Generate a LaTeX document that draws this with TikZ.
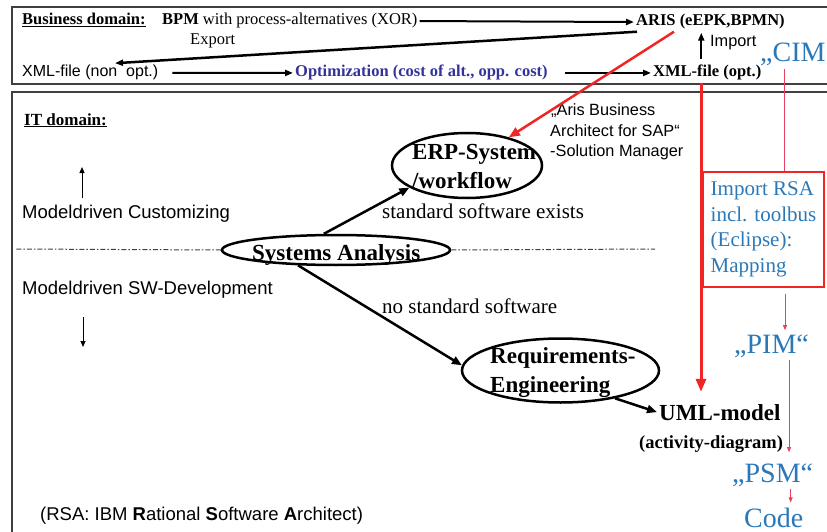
\documentclass[tikz,border=0pt]{standalone}
\usepackage{fontspec}
\setmainfont{Liberation Serif}
\setsansfont{Liberation Sans}
\usetikzlibrary{arrows.meta,shapes.geometric,calc}
\definecolor{cblue}{RGB}{42,120,184}
\definecolor{optblue}{RGB}{51,51,153}
\definecolor{cred}{RGB}{240,38,38}
\definecolor{pinkc}{RGB}{232,64,96}
\definecolor{framec}{RGB}{64,64,64}
\newcommand{\fsz}[1]{\fontsize{#1}{#1}\selectfont}
\begin{document}
\begin{tikzpicture}[x=1pt,y=-1pt,
  txt/.style={inner sep=2pt, anchor=base west},
  ser/.style={txt, font=\fsz{16.5}},
  serb/.style={txt, font=\fsz{16.5}\bfseries},
  sans/.style={txt, font=\fsz{16.3}\sffamily},
  sansl/.style={txt, font=\fsz{18.5}\sffamily},
  big/.style={txt, font=\fsz{23}\bfseries},
  mid/.style={txt, font=\fsz{21}},
  blue/.style={txt, font=\fsz{28}, text=cblue},
  boxline/.style={draw=framec, line width=1.5pt},
  blk/.style={line width=2pt, -{Triangle[length=8pt,width=6pt]}},
  conn/.style={line width=2.5pt, -{Triangle[length=10pt,width=8pt]}},
  redarrow/.style={draw=cred, line width=2.5pt, -{Triangle[length=11pt,width=9pt]}},
  redthick/.style={draw=cred, line width=3pt, -{Triangle[length=13pt,width=10pt]}},
  pinkline/.style={draw=pinkc, line width=0.9pt},
  pinkarrow/.style={pinkline, -{Triangle[length=5pt,width=4pt]}},
  thinarr/.style={line width=1pt, -{Triangle[length=6pt,width=5pt]}},
  dashdot/.style={draw=framec, line width=1pt, dash pattern=on 5pt off 2pt on 1.5pt off 2pt},
  ell/.style={ellipse, draw, line width=2.5pt, inner sep=0pt}]
\useasboundingbox (0,0) rectangle (827,532);
% frames
\draw[boxline] (827,7) -- (12,7) -- (12,84) -- (827,84);
\draw[boxline] (827,92) -- (12,92) -- (12,532);
% business domain texts
\node[serb] (bd) at (20,25) {\underline{Business domain:}};
\node[ser] (bpm) at (160,25) {\textbf{BPM} with process-alternatives (XOR)};
\node[serb] (aris) at (634,26) {ARIS (eEPK,BPMN)};
\node[ser] (export) at (188,45) {Export};
\node[txt, font=\fsz{16}\sffamily] (xmlnon) at (20,77) {XML-file (non~ opt.)};
\node[serb, text=optblue] (opt) at (293,77) {Optimization (cost of alt., opp. cost)};
\node[serb] (xmlopt) at (651,77) {XML-file (opt.)};
\node[sans] (import) at (708,47) {Import};
\node[blue] (cim) at (758,62) {„CIM};
% IT domain texts
\node[txt, font=\fsz{17}\bfseries] (itd) at (22,125) {\underline{IT domain:}};
\node[sansl] (mc) at (20,218) {Modeldriven Customizing};
\node[sansl] (msw) at (20,294) {Modeldriven SW-Development};
\node[sansl] (rsa) at (38,520) {(RSA: IBM \textbf{R}ational \textbf{S}oftware \textbf{A}rchitect)};
\node[mid] (ssw) at (380,218) {standard software exists};
\node[mid] (nssw) at (380,313) {no standard software};
\node[sans] (ab1) at (549,116) {„Aris Business};
\node[sans] (ab2) at (548,137) {Architect for SAP“};
\node[sans] (ab3) at (548,157) {-Solution Manager};
% ellipses
\node[ell, minimum width=228pt, minimum height=30pt] (sa) at (336,250) {};
\node[big] (satext) at (250,260) {Systems Analysis};
\node[ell, minimum width=150pt, minimum height=65pt] (erp) at (467,165.5) {};
\node[big] (erp1) at (410,160) {ERP-System};
\node[big] (erp2) at (410,188) {/workflow};
\node[ell, minimum width=197pt, minimum height=64pt] (req) at (560.5,370.5) {};
\node[big] (req1) at (488,363) {Requirements-};
\node[big] (req2) at (488,392) {Engineering};
\node[big] (uml) at (657,420) {UML-model};
\node[txt, font=\fsz{18.5}\bfseries] (act) at (637,448) {(activity-diagram)};
% MDA column
\node[draw=cred, line width=1.1pt, minimum width=121pt, minimum height=115pt,
      inner xsep=4pt, inner ysep=0pt, align=left,
      font=\fontsize{21}{25.5}\selectfont, text=cblue] (imp) at (763.5,229.5)
      {Import RSA\\incl. toolbus\\(Eclipse):\\Mapping};
\node[blue] (pim) at (732,353) {„PIM“};
\node[blue] (psm) at (730,482) {„PSM“};
\node[blue] (code) at (742,527) {Code};
% top connectors
\draw[blk] (bpm.east) -- (aris.west);
\draw[blk, line width=2.5pt] ([xshift=3pt]aris.south west) -- ([xshift=95pt]xmlnon.north west);
\draw[blk, shorten <=12pt] (xmlnon.east) -- (opt.west);
\draw[blk, shorten <=15pt] (opt.east) -- (xmlopt.west);
\draw[blk, shorten <=4pt, shorten >=1pt] ([xshift=-6pt]xmlopt.north) -- ([xshift=-6pt]xmlopt.north |- aris.south);
% red connectors
\draw[redarrow] ([xshift=40pt]aris.south west) -- (erp.34);
\draw[redthick, shorten >=10pt] ([xshift=50pt]xmlopt.south west) -- ([xshift=50pt]xmlopt.south west |- uml.north);
\draw[pinkline] ([xshift=20.5pt]imp.north) -- ([xshift=20.5pt]imp.north |- cim.south);
\draw[pinkarrow, shorten <=6pt, shorten >=2pt] ([xshift=21.5pt]imp.south) -- ([xshift=21.5pt]imp.south |- pim.north);
\draw[pinkarrow, shorten >=9pt] ([xshift=17.5pt]pim.south) -- ([xshift=17.5pt]pim.south |- psm.north);
\draw[pinkarrow, shorten >=3pt] ([xshift=18pt]psm.south) -- ([xshift=18pt]psm.south |- code.north);
% IT domain connectors
\coordinate (upend) at (82,167);
\draw[thinarr, shorten <=4pt] (upend |- mc.north) -- (upend);
\coordinate (downend) at (83,347);
\draw[thinarr, shorten <=17pt] (downend |- msw.south) -- (downend);
\coordinate (dl) at (15,249);
\coordinate (dr) at (655,249);
\draw[dashdot] (sa.west) -- (dl);
\draw[dashdot] (sa.east) -- (dr);
\draw[conn] (sa.127) -- (erp.201);
\draw[conn] (sa.202) -- (req.177);
\draw[conn] (req.-27) -- (uml.west);
\end{tikzpicture}
\end{document}
